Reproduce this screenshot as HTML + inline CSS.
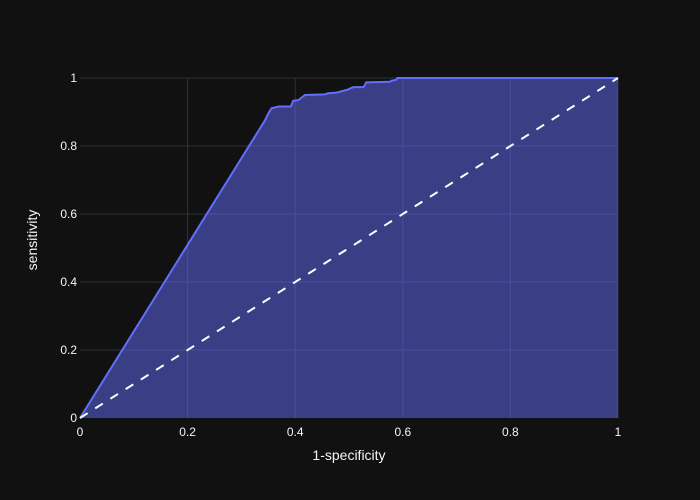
<!DOCTYPE html>
<html><head><meta charset="utf-8"><style>
html,body{margin:0;padding:0;background:#111111;}
svg{display:block;font-family:"Liberation Sans",sans-serif;}
</style></head><body>
<svg id="chart" width="700" height="500">
<rect width="700" height="500" fill="#111111"/>
<g id="grid"></g>
<g id="marks"></g>
<g id="ticks"></g>
<text x="349" y="460" fill="#f2f5fa" font-size="14" text-anchor="middle">1-specificity</text>
<text x="0" y="0" transform="translate(37,240) rotate(-90)" fill="#f2f5fa" font-size="14" text-anchor="middle">sensitivity</text>
</svg>
<script>
const fpr = [0,0.344,0.347,0.352,0.356,0.369,0.392,0.396,0.406,0.418,0.455,0.461,0.477,0.496,0.508,0.527,0.532,0.576,0.579,0.587,0.590,1];
const tpr = [0,0.876,0.886,0.901,0.911,0.916,0.916,0.933,0.935,0.950,0.952,0.955,0.957,0.965,0.973,0.973,0.987,0.989,0.992,0.994,1.0,1];
const xTicks = [0,0.2,0.4,0.6,0.8,1];
const yTicks = [0,0.2,0.4,0.6,0.8,1];
const xTickLabels = ["0","0.2","0.4","0.6","0.8","1"];
const yTickLabels = ["0","0.2","0.4","0.6","0.8","1"];

const X0=80,X1=618,Y0=418,Y1=78;
const sx=v=>X0+v*(X1-X0);
const sy=v=>Y0-v*(Y0-Y1);
const NS="http://www.w3.org/2000/svg";
function mk(tag,attrs,parent){const e=document.createElementNS(NS,tag);for(const k in attrs)e.setAttribute(k,attrs[k]);parent.appendChild(e);return e;}
const grid=document.getElementById('grid'),marks=document.getElementById('marks'),ticks=document.getElementById('ticks');
xTicks.forEach((t,i)=>{
  if(t>0){const l=mk('line',{x1:sx(t),x2:sx(t),y1:Y1,y2:Y0,stroke:'#283442','stroke-width':1},grid);
  
  }
  const tx=mk('text',{x:sx(t),y:Y0+18,fill:'#f2f5fa','font-size':12,'text-anchor':'middle'},ticks);
  tx.textContent=xTickLabels[i];
  
  
});
yTicks.forEach((t,i)=>{
  if(t>0){const l=mk('line',{x1:X0,x2:X1,y1:sy(t),y2:sy(t),stroke:'#283442','stroke-width':1},grid);
  
  }
  const tx=mk('text',{x:X0-3,y:sy(t)+4,fill:'#f2f5fa','font-size':12,'text-anchor':'end'},ticks);
  tx.textContent=yTickLabels[i];
  
  
});
let pts=fpr.map((v,i)=>sx(v)+','+sy(tpr[i])).join(' ');
const area=mk('polygon',{points:pts+' '+sx(1)+','+sy(0),fill:'rgba(99,110,250,0.5)'},marks);


const line=mk('polyline',{points:pts,fill:'none',stroke:'#636efa','stroke-width':2},marks);


const diag=mk('line',{x1:sx(0),y1:sy(0),x2:sx(1),y2:sy(1),stroke:'#ffffff','stroke-width':2,'stroke-dasharray':'9,9'},marks);


</script>
</body></html>
